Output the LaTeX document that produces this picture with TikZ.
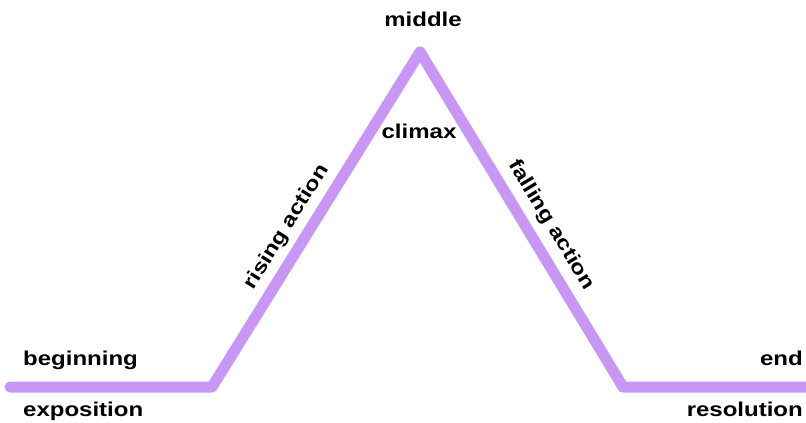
\documentclass[tikz,border=0pt]{standalone}
\usepackage{fontspec}
\setmainfont{Liberation Sans}[FakeStretch=1.2]
\definecolor{plotline}{HTML}{C896F5}
\begin{document}
\begin{tikzpicture}[x=1pt,y=-1pt,
  lbl/.style={font=\fontsize{20}{23}\selectfont\bfseries, text=black, inner sep=0pt},
  plot/.style={draw=plotline, line width=11pt, line cap=round, line join=round}]
\useasboundingbox (0,0) rectangle (806,423);
\coordinate (s) at (10,387);
\coordinate (a) at (212,387);
\coordinate (p) at (420,52);
\coordinate (b) at (623,387);
\coordinate (e) at (815,387);
\draw[plot] (s) -- (a) -- (p) -- (b) -- (e);
\node[lbl, anchor=base west] (beg) at (23,365) {beginning};
\node[lbl, anchor=base west] (expo) at (23,416) {exposition};
\node[lbl, anchor=base east] (end) at (803,365) {end};
\node[lbl, anchor=base east] (res) at (803,416) {resolution};
\node[lbl, anchor=base] (mid) at (423,27) {middle};
\node[lbl, anchor=base] (cli) at (419,138) {climax};
\node[lbl, rotate=58.2] (rise) at (287,227) {rising action};
\node[lbl, rotate=-58.8] (fall) at (551,225) {falling action};
\end{tikzpicture}
\end{document}
